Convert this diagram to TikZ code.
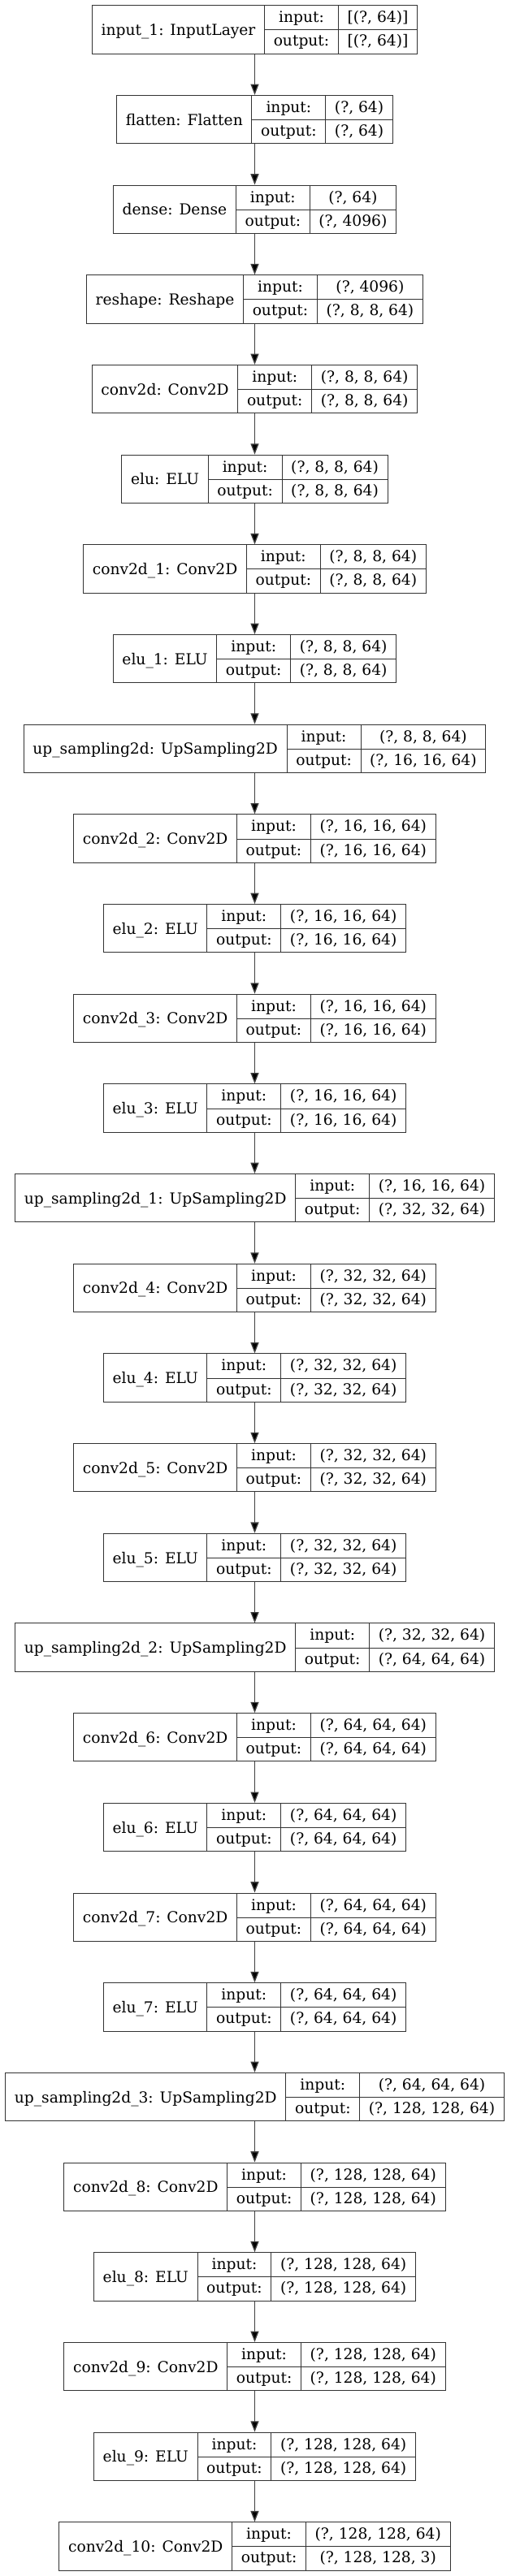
\documentclass[tikz,border=0pt]{standalone}
\usepackage{fontspec}
\usepackage{colortbl}
\setmainfont{DejaVu Serif}
\usetikzlibrary{arrows.meta,positioning}

\newcommand{\layerfont}{\fontsize{14pt}{17pt}\selectfont}
\newcommand{\rowstrut}{\rule[-6.5pt]{0pt}{21.875pt}}
\setlength{\tabcolsep}{8pt}
\setlength{\arrayrulewidth}{0.75pt}
\arrayrulecolor{black!80}

\begin{document}
\begin{tikzpicture}[
    every node/.style={font=\layerfont, text=black},
    layer/.style={inner sep=0pt, outer sep=0pt},
    flow/.style={draw=black!75, line width=1pt,
                 -{Triangle[length=10pt,width=7.5pt,fill=black]}}]
  \useasboundingbox (0,0) rectangle (468pt,-2379pt);
  \foreach \ttl/\ins/\outs [count=\k from 0] in {
      {input\_1: InputLayer}/{[(?, 64)]}/{[(?, 64)]},
      {flatten: Flatten}/{(?, 64)}/{(?, 64)},
      {dense: Dense}/{(?, 64)}/{(?, 4096)},
      {reshape: Reshape}/{(?, 4096)}/{(?, 8, 8, 64)},
      {conv2d: Conv2D}/{(?, 8, 8, 64)}/{(?, 8, 8, 64)},
      {elu: ELU}/{(?, 8, 8, 64)}/{(?, 8, 8, 64)},
      {conv2d\_1: Conv2D}/{(?, 8, 8, 64)}/{(?, 8, 8, 64)},
      {elu\_1: ELU}/{(?, 8, 8, 64)}/{(?, 8, 8, 64)},
      {up\_sampling2d: UpSampling2D}/{(?, 8, 8, 64)}/{(?, 16, 16, 64)},
      {conv2d\_2: Conv2D}/{(?, 16, 16, 64)}/{(?, 16, 16, 64)},
      {elu\_2: ELU}/{(?, 16, 16, 64)}/{(?, 16, 16, 64)},
      {conv2d\_3: Conv2D}/{(?, 16, 16, 64)}/{(?, 16, 16, 64)},
      {elu\_3: ELU}/{(?, 16, 16, 64)}/{(?, 16, 16, 64)},
      {up\_sampling2d\_1: UpSampling2D}/{(?, 16, 16, 64)}/{(?, 32, 32, 64)},
      {conv2d\_4: Conv2D}/{(?, 32, 32, 64)}/{(?, 32, 32, 64)},
      {elu\_4: ELU}/{(?, 32, 32, 64)}/{(?, 32, 32, 64)},
      {conv2d\_5: Conv2D}/{(?, 32, 32, 64)}/{(?, 32, 32, 64)},
      {elu\_5: ELU}/{(?, 32, 32, 64)}/{(?, 32, 32, 64)},
      {up\_sampling2d\_2: UpSampling2D}/{(?, 32, 32, 64)}/{(?, 64, 64, 64)},
      {conv2d\_6: Conv2D}/{(?, 64, 64, 64)}/{(?, 64, 64, 64)},
      {elu\_6: ELU}/{(?, 64, 64, 64)}/{(?, 64, 64, 64)},
      {conv2d\_7: Conv2D}/{(?, 64, 64, 64)}/{(?, 64, 64, 64)},
      {elu\_7: ELU}/{(?, 64, 64, 64)}/{(?, 64, 64, 64)},
      {up\_sampling2d\_3: UpSampling2D}/{(?, 64, 64, 64)}/{(?, 128, 128, 64)},
      {conv2d\_8: Conv2D}/{(?, 128, 128, 64)}/{(?, 128, 128, 64)},
      {elu\_8: ELU}/{(?, 128, 128, 64)}/{(?, 128, 128, 64)},
      {conv2d\_9: Conv2D}/{(?, 128, 128, 64)}/{(?, 128, 128, 64)},
      {elu\_9: ELU}/{(?, 128, 128, 64)}/{(?, 128, 128, 64)},
      {conv2d\_10: Conv2D}/{(?, 128, 128, 64)}/{(?, 128, 128, 3)}}
  {
    % one record per layer: name | input/output | shapes
    \pgfmathsetmacro\boxc{-27.28-83.01*\k}
    \node[layer] (L\k) at (235.125pt,\boxc pt) {%
      \begin{tabular}{|c|c|c|}\hline
        \raisebox{-11.8pt}[0pt][0pt]{\ttl} & input: & \ins\rowstrut \\ \cline{2-3}
        & output: & \outs\rowstrut \\ \hline
      \end{tabular}};
  }
  \foreach \k [evaluate=\k as \j using int(\k+1)] in {0,...,27}
    \draw[flow] (L\k.south) -- (L\j.north);
\end{tikzpicture}
\end{document}
